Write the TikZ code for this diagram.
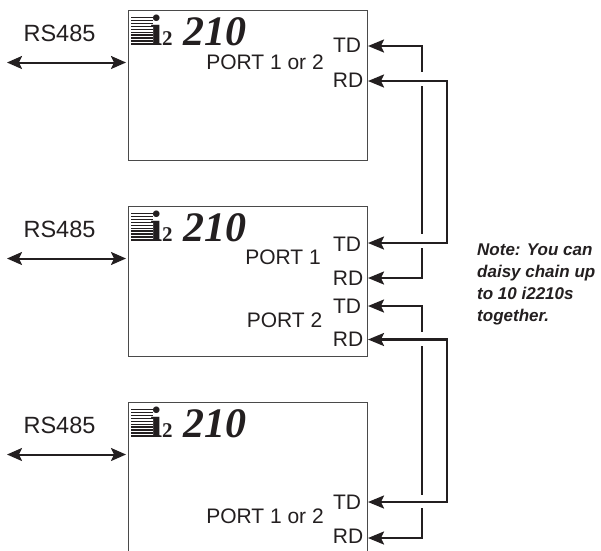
\documentclass[tikz,border=0pt]{standalone}
\usepackage{fontspec}
\setmainfont{Liberation Sans}
\newfontfamily\logofont{Liberation Serif}
\usetikzlibrary{arrows.meta,positioning,calc}
\definecolor{WireBlack}{HTML}{231F20}
\definecolor{BoxGray}{HTML}{4A4A4A}
\begin{document}
\begin{tikzpicture}[x=1pt,y=-1pt,node distance=46pt]
    \tikzset{unitbox/.style={draw=BoxGray,line width=0.9pt,minimum width=239pt,minimum height=150pt,inner sep=0pt,outer sep=0pt},
      labeltext/.style={font=\fontsize{21}{23}\selectfont,text=WireBlack,inner sep=0pt},
      bustext/.style={font=\fontsize{23.5}{25}\selectfont,text=WireBlack,inner sep=0pt},
      logotext/.style={font=\logofont\fontsize{42}{42}\selectfont\bfseries\itshape,text=WireBlack,inner sep=0pt},
      logomark/.style={font=\logofont\fontsize{44}{44}\selectfont\bfseries,text=WireBlack,inner sep=0pt},
      logotwo/.style={font=\logofont\fontsize{21}{21}\selectfont\bfseries,text=WireBlack,inner sep=0pt},
      linkwire/.style={WireBlack,line width=2.3pt},
      linktip/.style={linkwire,{Stealth[length=16pt,width=13pt,inset=3pt]}-},
      linkboth/.style={linkwire,{Stealth[length=16pt,width=13pt,inset=3pt]}-{Stealth[length=16pt,width=13pt,inset=3pt]}},
      busarrow/.style={WireBlack,line width=2pt,{Stealth[length=15pt,width=13pt,inset=3pt]}-{Stealth[length=15pt,width=13pt,inset=3pt]}}}
    \useasboundingbox (0,0) rectangle (601,550);
    \clip (0,0) rectangle (601,550);
    \node[unitbox] (unita) at (247.5,85) {};
    \node[unitbox,below=of unita] (unitb) {};
    \node[unitbox,below=of unitb] (unitc) {};
    % logos
    \foreach \u/\y in {a/10,b/206,c/402} {
      \foreach \s/\w in {7/0.5,10/0.6,13/0.7,16/0.8,19/0.9,22/1,25/1.2,28/1.4,31/1.6,34/1.8} {
        \draw[WireBlack,line width=\w pt] (131,\y+\s) -- (153,\y+\s);
      }
      \node[logomark,anchor=base west] (mark\u) at (150,\y+35) {i};
      \node[logotwo,anchor=base west] (two\u) at (162,\y+35) {2};
      \node[logotext,anchor=base west] (logo\u) at (183,\y+35) {210};
    }
    % labels
    \node[bustext] (busa) at (59.5,33) {RS485};
    \node[bustext] (busb) at (59.5,229) {RS485};
    \node[bustext] (busc) at (59.5,425) {RS485};
    \node[labeltext] (porta) at (265,62) {PORT 1 or 2};
    \node[labeltext] (portb) at (283,257) {PORT 1};
    \node[labeltext] (portd) at (284.5,320) {PORT 2};
    \node[labeltext] (portc) at (265,516) {PORT 1 or 2};
    \node[labeltext] (tda) at (347,45) {TD};
    \node[labeltext] (rda) at (348,80) {RD};
    \node[labeltext] (tdb) at (347,244) {TD};
    \node[labeltext] (rdb) at (348,278) {RD};
    \node[labeltext] (tdd) at (347,306) {TD};
    \node[labeltext] (rdd) at (348,339) {RD};
    \node[labeltext] (tdc) at (347,502) {TD};
    \node[labeltext] (rdc) at (348,536) {RD};
    \node[font=\fontsize{17}{21.7}\selectfont\bfseries\itshape,text=WireBlack,inner sep=0pt,align=left,anchor=north west] (note) at (477,244) {Note: You can\\daisy chain up\\to 10 i2210s\\together.};
    % RS485 lines
    \coordinate (enda) at (7,62.5);
    \coordinate (endb) at (7,258.5);
    \coordinate (endc) at (7,454.5);
    \draw[busarrow] (enda) -- ($(enda -| unita.west)+(-2,0)$);
    \draw[busarrow] (endb) -- ($(endb -| unitb.west)+(-2,0)$);
    \draw[busarrow] (endc) -- ($(endc -| unitc.west)+(-2,0)$);
    % links
    \coordinate (tipta) at (368,46);
    \coordinate (tipra) at (368,81);
    \coordinate (tiptb) at (368,243);
    \coordinate (tiprb) at (368,278);
    \coordinate (tiptd) at (368,306);
    \coordinate (tiprd) at (368,339.5);
    \coordinate (tiptc) at (368,502);
    \coordinate (tiprc) at (368,538);
    \draw[linktip] (tipta) -- (421.7,46) -- (421.7,72);
    \draw[linkboth] (tipra) -- (446.7,81) -- (446.7,243) -- (tiptb);
    \draw[linkwire] (421.7,86) -- (421.7,234);
    \draw[linktip] (tiprb) -- (421.7,278) -- (421.7,248);
    \draw[linktip] (tiptd) -- (421.7,306) -- (421.7,332);
    \draw[linkboth] (tiprd) -- (446.7,339.5) -- (446.7,502) -- (tiptc);
    \draw[linkwire] (421.7,346) -- (421.7,495);
    \draw[linktip] (tiprc) -- (421.7,538) -- (421.7,508);
  \end{tikzpicture}
\end{document}
